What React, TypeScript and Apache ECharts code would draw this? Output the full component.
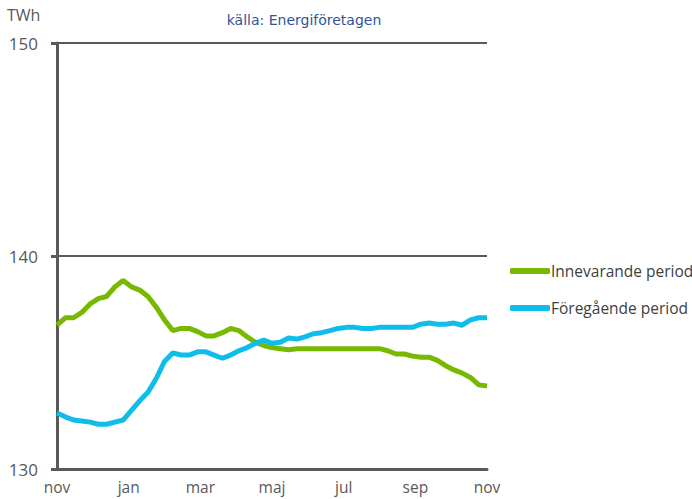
import React, { useEffect, useRef } from "react";
import * as echarts from "echarts";

const monthLabels = ["nov", "jan", "mar", "maj", "jul", "sep", "nov"];
const seriesNames = ["Innevarande period", "Föregående period"];

// weekly values, nov -> nov (53 weeks), TWh
const current = [
  136.76, 137.1, 137.1, 137.35, 137.75, 138.0, 138.1, 138.55, 138.85, 138.55,
  138.4, 138.1, 137.6, 137.0, 136.5, 136.6, 136.6, 136.45, 136.25, 136.25,
  136.4, 136.6, 136.5, 136.2, 135.95, 135.8, 135.7, 135.65, 135.6, 135.65,
  135.65, 135.65, 135.65, 135.65, 135.65, 135.65, 135.65, 135.65, 135.65, 135.65,
  135.55, 135.4, 135.4, 135.3, 135.25, 135.25, 135.1, 134.85, 134.65, 134.5,
  134.3, 133.95, 133.9,
];
const previous = [
  132.63, 132.45, 132.3, 132.25, 132.2, 132.1, 132.1, 132.2, 132.3, 132.75,
  133.2, 133.6, 134.25, 135.05, 135.45, 135.35, 135.35, 135.5, 135.5, 135.35,
  135.2, 135.35, 135.55, 135.7, 135.9, 136.05, 135.9, 135.95, 136.15, 136.1,
  136.2, 136.35, 136.4, 136.5, 136.6, 136.65, 136.65, 136.6, 136.6, 136.65,
  136.65, 136.65, 136.65, 136.65, 136.8, 136.85, 136.8, 136.8, 136.85, 136.75,
  137.0, 137.1, 137.1,
];

const toPairs = (arr: number[]) =>
  arr.map((v, i) => [(i * 12) / (arr.length - 1), v]);

export default function App() {
  const ref = useRef<HTMLDivElement>(null);
  useEffect(() => {
    if (!ref.current) return;
    const chart = echarts.init(ref.current, undefined, { renderer: "svg" });
    const axisColor = "#595959";
    const font = "'Open Sans', 'Noto Sans', sans-serif";
    chart.setOption({
      animation: false,
      backgroundColor: "#ffffff",
      textStyle: { fontFamily: font },
      grid: { left: 57, right: 205, top: 43, bottom: 30, containLabel: false },
      graphic: [
        {
          type: "text",
          left: 7,
          top: 7,
          style: { text: "TWh", fill: axisColor, font: `16px ${font}` },
        },
        {
          type: "text",
          x: 304,
          y: 20,
          style: {
            text: "källa: Energiföretagen",
            fill: "#2f5597",
            font: `14px 'DejaVu Sans', sans-serif`,
            textAlign: "center",
            textVerticalAlign: "middle",
          },
        },
      ],
      legend: {
        orient: "vertical",
        left: 505,
        top: 258,
        itemWidth: 40,
        itemHeight: 6,
        itemGap: 21,
        icon: "roundRect",
        textStyle: { color: "#404040", fontSize: 15.5, fontFamily: font, padding: [0, 0, 0, -4] },
        data: seriesNames,
      },
      xAxis: {
        type: "value",
        min: 0,
        max: 12,
        interval: 2,
        axisLine: { show: true, lineStyle: { color: axisColor, width: 3 } },
        axisTick: { show: false },
        splitLine: { show: false },
        axisLabel: {
          color: axisColor,
          fontSize: 15.5,
          lineHeight: 16,
          margin: 10,
          formatter: (v: number) => monthLabels[Math.round(v / 2)] ?? "",
        },
      },
      yAxis: {
        type: "value",
        min: 130,
        max: 150,
        interval: 10,
        axisLine: { show: true, lineStyle: { color: axisColor, width: 3 } },
        axisTick: { show: true, length: 6, lineStyle: { color: axisColor, width: 3 } },
        splitLine: { show: true, lineStyle: { color: axisColor, width: 2 } },
        axisLabel: { color: axisColor, fontSize: 17, margin: 19 },
      },
      series: [
        {
          name: seriesNames[0],
          type: "line",
          data: toPairs(current),
          showSymbol: false,
          symbol: "none",
          lineStyle: { color: "#77b800", width: 5 },
          itemStyle: { color: "#77b800" },
          z: 3,
        },
        {
          name: seriesNames[1],
          type: "line",
          data: toPairs(previous),
          showSymbol: false,
          symbol: "none",
          lineStyle: { color: "#0ebde8", width: 5 },
          itemStyle: { color: "#0ebde8" },
          z: 4,
        },
      ],
    });
    return () => chart.dispose();
  }, []);
  return (
    <div
      ref={ref}
      style={{ position: "absolute", left: 0, top: 0, width: 692, height: 499 }}
    />
  );
}
